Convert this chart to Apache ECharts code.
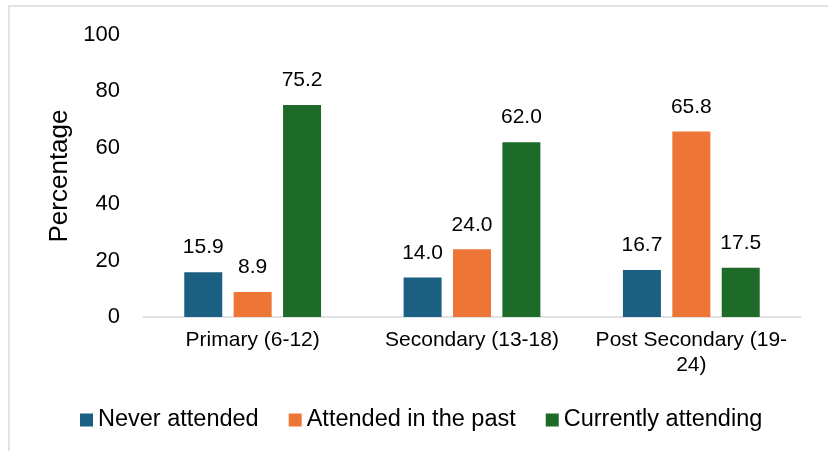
<!DOCTYPE html>
<html>
<head>
<meta charset="utf-8">
<script src="https://cdn.jsdelivr.net/npm/echarts@6/dist/echarts.min.js"></script>
<style>
  html, body { margin: 0; padding: 0; background: #fff; }
  #chart { width: 828px; height: 451px; }
</style>
</head>
<body>
<div id="chart"></div>
<script>
// categories and values
var categories = ["Primary (6-12)", "Secondary (13-18)", "Post Secondary (19-\n24)"];
var neverAttended = [15.9, 14.0, 16.7];
var attendedPast = [8.9, 24.0, 65.8];
var currentlyAttending = [75.2, 62.0, 17.5];
var seriesNames = ["Never attended", "Attended in the past", "Currently attending"];
var colors = ["#1b5f82", "#ed7535", "#1e6a28"];

var myChart = echarts.init(document.getElementById("chart"));

var font = "Liberation Sans, Arial, sans-serif";

function makeSeries(name, data, color) {
  return {
    name: name,
    type: "bar",
    data: data,
    barWidth: 38,
    barGap: "30%",
    itemStyle: { color: color },
    label: {
      show: true,
      position: "top",
      distance: 14,
      color: "#000",
      fontFamily: font,
      fontSize: 21,
      formatter: function (p) { return p.value.toFixed(1); },
    },
  };
}

var option = {
  animation: false,
  color: colors,
  graphic: [
    {
      type: "rect",
      shape: { x: 9, y: 6, width: 830, height: 460 },
      style: { fill: "none", stroke: "#d9d9d9", lineWidth: 1.5 },
      silent: true,
    },
  ],
  grid: { left: 143, right: 27, top: 35, bottom: 134 },
  legend: {
    top: 403,
    left: 75,
    itemWidth: 13,
    itemHeight: 13,
    itemGap: 30,
    icon: "rect",
    textStyle: { fontFamily: font, fontSize: 23.5, color: "#000" },
    data: seriesNames,
  },
  xAxis: {
    type: "category",
    data: categories,
    axisLine: { lineStyle: { color: "#d9d9d9", width: 1.5 } },
    axisTick: { show: false },
    axisLabel: {
      color: "#000",
      fontFamily: font,
      fontSize: 21,
      margin: 11,
      lineHeight: 25,
      interval: 0,
    },
  },
  yAxis: {
    type: "value",
    min: 0,
    max: 100,
    interval: 20,
    name: "Percentage",
    nameLocation: "middle",
    nameGap: 70,
    nameTextStyle: { color: "#000", fontFamily: font, fontSize: 26 },
    splitLine: { show: false },
    axisLine: { show: false },
    axisTick: { show: false },
    axisLabel: { color: "#000", fontFamily: font, fontSize: 22, margin: 23 },
  },
  series: [
    makeSeries(seriesNames[0], neverAttended, colors[0]),
    makeSeries(seriesNames[1], attendedPast, colors[1]),
    makeSeries(seriesNames[2], currentlyAttending, colors[2]),
  ],
};

myChart.setOption(option);
</script>
</body>
</html>
